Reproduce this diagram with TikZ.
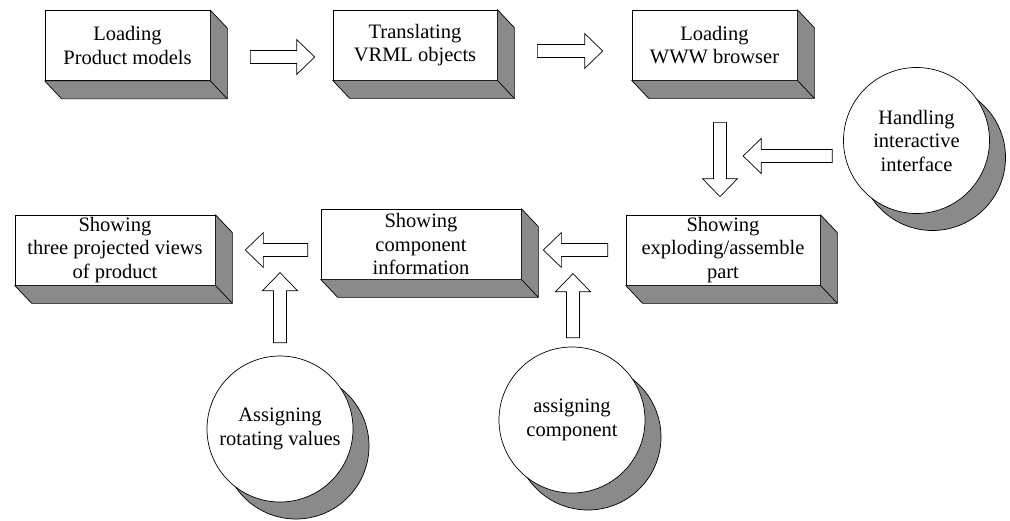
\documentclass[tikz,border=0pt]{standalone}
\usepackage{fontspec}
\setmainfont{Liberation Serif}
\usetikzlibrary{calc,shadows}
\definecolor{sidegray}{RGB}{138,138,138}
\tikzset{
  stepbox/.style={draw=black, line width=0.7pt, fill=white, inner sep=0pt,
    align=center, font=\fontsize{20.5}{23.5}\selectfont, minimum height=70pt},
  roundnote/.style={circle, draw=black, line width=0.7pt, fill=white, inner sep=0pt,
    minimum size=146pt, align=center, font=\fontsize{20.5}{23.5}\selectfont,
    general shadow={shadow xshift=16pt, shadow yshift=-17pt, fill=sidegray,
      draw=black, line width=0.7pt}},
  blockarrow/.style={draw=black, line width=0.7pt, fill=white, line join=miter},
  extrusion/.style={draw=black, line width=0.7pt, fill=sidegray, line join=round}
}
% 3D depth on the right and bottom of a box node
\newcommand\extrude[1]{%
  \draw[extrusion] (#1.north east) -- ($(#1.north east)+(17,18)$)
    -- ($(#1.south east)+(17,18)$) -- ($(#1.south west)+(17,18)$)
    -- (#1.south west) -- (#1.south east) -- cycle;
  \draw[extrusion] (#1.south east) -- ($(#1.south east)+(17,18)$);}
% hollow block arrow from #1 to the tip #2
\newcommand\fatarrow[2]{%
  \draw[blockarrow] let \p1=#1, \p2=#2,
      \n1={atan2(\y2-\y1,\x2-\x1)}, \n2={veclen(\x2-\x1,\y2-\y1)} in
    [shift={(\x1,\y1)}, rotate=\n1]
    (0pt,6.5pt) -- (\n2-18pt,6.5pt) -- (\n2-18pt,17.5pt) -- (\n2,0pt)
    -- (\n2-18pt,-17.5pt) -- (\n2-18pt,-6.5pt) -- (0pt,-6.5pt) -- cycle;}
\begin{document}
\begin{tikzpicture}[x=1pt,y=-1pt]
\useasboundingbox (0,0) rectangle (1010,520);

% process steps
\node[stepbox, minimum width=165pt] (load) at (127.5,45.5) {Loading\\Product models};
\node[stepbox, minimum width=164pt] (translate) at (415,45) {Translating\\VRML objects};
\node[stepbox, minimum width=165pt] (browser) at (714.5,45) {Loading\\WWW browser};
\node[stepbox, minimum width=194pt] (explode) at (723,250) {Showing\\exploding/assemble\\part};
\node[stepbox, minimum width=200pt] (compinfo) at (421,244) {Showing\\component\\information};
\node[stepbox, minimum width=200pt] (views) at (115,250) {Showing\\three projected views\\of product};
\foreach \b in {load,translate,browser,explode,compinfo,views} {\extrude{\b}}

% user inputs
\node[roundnote] (handler) at (916.5,140.5) {Handling\\interactive\\interface};
\node[roundnote] (rotval) at (280,429) {Assigning\\rotating values};
\node[roundnote] (assigncomp) at (572,420) {assigning\\component};

% flow
\fatarrow{($(load.east)+(40,11.5)$)}{($(translate.west)+(-18,12)$)}
\fatarrow{($(translate.east)+(40,6)$)}{($(browser.west)+(-29,6)$)}
\fatarrow{($(browser.south)+(5.5,42)$)}{($(explode.north)+(-3,-18)$)}
\fatarrow{($(handler.west)+(-11,15.5)$)}{($(handler.west)+(-100,15.5)$)}
\fatarrow{($(explode.west)+(-18,0)$)}{($(compinfo.east)+(22,6)$)}
\fatarrow{($(compinfo.west)+(-13,6)$)}{($(views.east)+(30,0)$)}
\fatarrow{($(rotval.north)+(0,-13)$)}{($(rotval.north)+(0,-83)$)}
\fatarrow{($(assigncomp.north)+(1,-9)$)}{($(assigncomp.north)+(1,-73)$)}
\end{tikzpicture}
\end{document}
